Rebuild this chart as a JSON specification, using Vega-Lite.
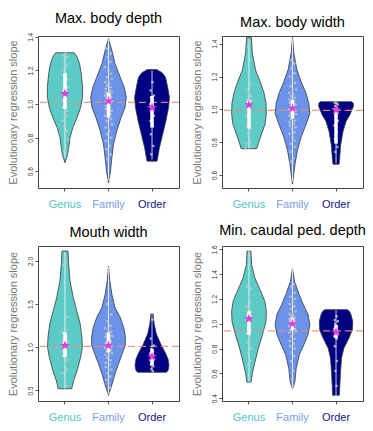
{
"$schema": "https://vega.github.io/schema/vega-lite/v6.json",
"padding": {"left": 6, "top": 10, "right": 5, "bottom": 5},
"background": "white",
"config": {
  "font": "Liberation Sans",
  "view": {"stroke": "#444", "strokeWidth": 1},
  "title": {"fontSize": 14.5, "fontWeight": "normal", "color": "#000", "offset": 6, "anchor": "middle"},
  "axis": {"labelOverlap": false},
  "axisQuantitative": {"labelOverlap": false},
  "axisY": {"domain": false, "grid": false, "tickSize": 3, "tickColor": "#555", "labelAngle": 270, "labelAlign": "center", "labelBaseline": "bottom", "labelFontSize": 6.5, "labelColor": "#333", "labelPadding": 2, "labelOverlap": false, "labelFlush": false, "titleFontSize": 11, "titleColor": "#777", "titleFontWeight": "normal", "titlePadding": 9},
  "axisX": {"domain": false, "grid": false, "tickSize": 3, "tickColor": "#555", "labelAngle": 0, "labelFontSize": 11, "labelPadding": 7}
},
"datasets": {
"ref": [{"p":"depth","v":1.01},{"p":"width","v":0.993},{"p":"mouth","v":1.01},{"p":"caudal","v":0.943}],
"st": [
{"p":"depth","c":"Genus","lo":0.68,"hi":1.30,"q1":0.97,"q3":1.185,"m":1.062},
{"p":"depth","c":"Family","lo":0.55,"hi":1.38,"q1":0.92,"q3":1.067,"m":1.018},
{"p":"depth","c":"Order","lo":0.67,"hi":1.20,"q1":0.86,"q3":1.048,"m":0.978},
{"p":"width","c":"Genus","lo":0.76,"hi":1.43,"q1":0.883,"q3":1.057,"m":1.027},
{"p":"width","c":"Family","lo":0.56,"hi":1.43,"q1":0.945,"q3":1.057,"m":1.006},
{"p":"width","c":"Order","lo":0.67,"hi":1.04,"q1":0.79,"q3":0.996,"m":0.996},
{"p":"mouth","c":"Genus","lo":0.52,"hi":2.1,"q1":0.885,"q3":1.173,"m":1.02},
{"p":"mouth","c":"Family","lo":0.46,"hi":1.93,"q1":0.94,"q3":1.17,"m":1.02},
{"p":"mouth","c":"Order","lo":0.72,"hi":1.38,"q1":0.79,"q3":0.98,"m":0.89},
{"p":"caudal","c":"Genus","lo":0.53,"hi":1.59,"q1":0.91,"q3":1.10,"m":1.04},
{"p":"caudal","c":"Family","lo":0.47,"hi":1.45,"q1":0.95,"q3":1.046,"m":1.0},
{"p":"caudal","c":"Order","lo":0.42,"hi":1.11,"q1":0.884,"q3":0.99,"m":0.933}
],
"vio": [
{"p":"depth","c":"Genus","i":0,"v":0.65,"o":0},
{"p":"depth","c":"Genus","i":1,"v":0.70,"o":-0.06},
{"p":"depth","c":"Genus","i":2,"v":0.74,"o":-0.085},
{"p":"depth","c":"Genus","i":3,"v":0.80,"o":-0.115},
{"p":"depth","c":"Genus","i":4,"v":0.86,"o":-0.18},
{"p":"depth","c":"Genus","i":5,"v":0.92,"o":-0.28},
{"p":"depth","c":"Genus","i":6,"v":0.98,"o":-0.36},
{"p":"depth","c":"Genus","i":7,"v":1.04,"o":-0.405},
{"p":"depth","c":"Genus","i":8,"v":1.10,"o":-0.405},
{"p":"depth","c":"Genus","i":9,"v":1.18,"o":-0.375},
{"p":"depth","c":"Genus","i":10,"v":1.24,"o":-0.335},
{"p":"depth","c":"Genus","i":11,"v":1.28,"o":-0.28},
{"p":"depth","c":"Genus","i":12,"v":1.305,"o":-0.215},
{"p":"depth","c":"Genus","i":13,"v":1.305,"o":0.215},
{"p":"depth","c":"Genus","i":14,"v":1.28,"o":0.28},
{"p":"depth","c":"Genus","i":15,"v":1.24,"o":0.335},
{"p":"depth","c":"Genus","i":16,"v":1.18,"o":0.375},
{"p":"depth","c":"Genus","i":17,"v":1.10,"o":0.405},
{"p":"depth","c":"Genus","i":18,"v":1.04,"o":0.405},
{"p":"depth","c":"Genus","i":19,"v":0.98,"o":0.36},
{"p":"depth","c":"Genus","i":20,"v":0.92,"o":0.28},
{"p":"depth","c":"Genus","i":21,"v":0.86,"o":0.18},
{"p":"depth","c":"Genus","i":22,"v":0.80,"o":0.115},
{"p":"depth","c":"Genus","i":23,"v":0.74,"o":0.085},
{"p":"depth","c":"Genus","i":24,"v":0.70,"o":0.06},

{"p":"depth","c":"Family","i":0,"v":0.53,"o":0},
{"p":"depth","c":"Family","i":1,"v":0.60,"o":-0.046},
{"p":"depth","c":"Family","i":2,"v":0.68,"o":-0.077},
{"p":"depth","c":"Family","i":3,"v":0.76,"o":-0.115},
{"p":"depth","c":"Family","i":4,"v":0.84,"o":-0.19},
{"p":"depth","c":"Family","i":5,"v":0.92,"o":-0.29},
{"p":"depth","c":"Family","i":6,"v":0.98,"o":-0.38},
{"p":"depth","c":"Family","i":7,"v":1.04,"o":-0.41},
{"p":"depth","c":"Family","i":8,"v":1.10,"o":-0.36},
{"p":"depth","c":"Family","i":9,"v":1.16,"o":-0.27},
{"p":"depth","c":"Family","i":10,"v":1.24,"o":-0.15},
{"p":"depth","c":"Family","i":11,"v":1.32,"o":-0.077},
{"p":"depth","c":"Family","i":12,"v":1.39,"o":0},
{"p":"depth","c":"Family","i":13,"v":1.32,"o":0.077},
{"p":"depth","c":"Family","i":14,"v":1.24,"o":0.15},
{"p":"depth","c":"Family","i":15,"v":1.16,"o":0.27},
{"p":"depth","c":"Family","i":16,"v":1.10,"o":0.36},
{"p":"depth","c":"Family","i":17,"v":1.04,"o":0.41},
{"p":"depth","c":"Family","i":18,"v":0.98,"o":0.38},
{"p":"depth","c":"Family","i":19,"v":0.92,"o":0.29},
{"p":"depth","c":"Family","i":20,"v":0.84,"o":0.19},
{"p":"depth","c":"Family","i":21,"v":0.76,"o":0.115},
{"p":"depth","c":"Family","i":22,"v":0.68,"o":0.077},
{"p":"depth","c":"Family","i":23,"v":0.60,"o":0.046},

{"p":"depth","c":"Order","i":0,"v":0.66,"o":-0.115},
{"p":"depth","c":"Order","i":1,"v":0.74,"o":-0.17},
{"p":"depth","c":"Order","i":2,"v":0.82,"o":-0.245},
{"p":"depth","c":"Order","i":3,"v":0.90,"o":-0.32},
{"p":"depth","c":"Order","i":4,"v":0.98,"o":-0.38},
{"p":"depth","c":"Order","i":5,"v":1.04,"o":-0.40},
{"p":"depth","c":"Order","i":6,"v":1.10,"o":-0.36},
{"p":"depth","c":"Order","i":7,"v":1.16,"o":-0.31},
{"p":"depth","c":"Order","i":8,"v":1.185,"o":-0.24},
{"p":"depth","c":"Order","i":9,"v":1.205,"o":-0.11},
{"p":"depth","c":"Order","i":10,"v":1.205,"o":0.11},
{"p":"depth","c":"Order","i":11,"v":1.185,"o":0.24},
{"p":"depth","c":"Order","i":12,"v":1.16,"o":0.31},
{"p":"depth","c":"Order","i":13,"v":1.10,"o":0.36},
{"p":"depth","c":"Order","i":14,"v":1.04,"o":0.40},
{"p":"depth","c":"Order","i":15,"v":0.98,"o":0.38},
{"p":"depth","c":"Order","i":16,"v":0.90,"o":0.32},
{"p":"depth","c":"Order","i":17,"v":0.82,"o":0.245},
{"p":"depth","c":"Order","i":18,"v":0.74,"o":0.17},
{"p":"depth","c":"Order","i":19,"v":0.66,"o":0.115},

{"p":"width","c":"Genus","i":0,"v":0.76,"o":-0.18},
{"p":"width","c":"Genus","i":1,"v":0.79,"o":-0.215},
{"p":"width","c":"Genus","i":2,"v":0.85,"o":-0.29},
{"p":"width","c":"Genus","i":3,"v":0.91,"o":-0.37},
{"p":"width","c":"Genus","i":4,"v":0.975,"o":-0.40},
{"p":"width","c":"Genus","i":5,"v":1.04,"o":-0.39},
{"p":"width","c":"Genus","i":6,"v":1.10,"o":-0.345},
{"p":"width","c":"Genus","i":7,"v":1.16,"o":-0.27},
{"p":"width","c":"Genus","i":8,"v":1.24,"o":-0.15},
{"p":"width","c":"Genus","i":9,"v":1.345,"o":-0.077},
{"p":"width","c":"Genus","i":10,"v":1.437,"o":-0.055},
{"p":"width","c":"Genus","i":11,"v":1.437,"o":0.055},
{"p":"width","c":"Genus","i":12,"v":1.345,"o":0.077},
{"p":"width","c":"Genus","i":13,"v":1.24,"o":0.15},
{"p":"width","c":"Genus","i":14,"v":1.16,"o":0.27},
{"p":"width","c":"Genus","i":15,"v":1.10,"o":0.345},
{"p":"width","c":"Genus","i":16,"v":1.04,"o":0.39},
{"p":"width","c":"Genus","i":17,"v":0.975,"o":0.40},
{"p":"width","c":"Genus","i":18,"v":0.91,"o":0.37},
{"p":"width","c":"Genus","i":19,"v":0.85,"o":0.29},
{"p":"width","c":"Genus","i":20,"v":0.79,"o":0.215},
{"p":"width","c":"Genus","i":21,"v":0.76,"o":0.18},

{"p":"width","c":"Family","i":0,"v":0.545,"o":0},
{"p":"width","c":"Family","i":1,"v":0.668,"o":-0.06},
{"p":"width","c":"Family","i":2,"v":0.75,"o":-0.115},
{"p":"width","c":"Family","i":3,"v":0.832,"o":-0.2},
{"p":"width","c":"Family","i":4,"v":0.914,"o":-0.32},
{"p":"width","c":"Family","i":5,"v":0.975,"o":-0.40},
{"p":"width","c":"Family","i":6,"v":1.037,"o":-0.375},
{"p":"width","c":"Family","i":7,"v":1.098,"o":-0.31},
{"p":"width","c":"Family","i":8,"v":1.16,"o":-0.21},
{"p":"width","c":"Family","i":9,"v":1.242,"o":-0.10},
{"p":"width","c":"Family","i":10,"v":1.345,"o":-0.03},
{"p":"width","c":"Family","i":11,"v":1.437,"o":0},
{"p":"width","c":"Family","i":12,"v":1.345,"o":0.03},
{"p":"width","c":"Family","i":13,"v":1.242,"o":0.10},
{"p":"width","c":"Family","i":14,"v":1.16,"o":0.21},
{"p":"width","c":"Family","i":15,"v":1.098,"o":0.31},
{"p":"width","c":"Family","i":16,"v":1.037,"o":0.375},
{"p":"width","c":"Family","i":17,"v":0.975,"o":0.40},
{"p":"width","c":"Family","i":18,"v":0.914,"o":0.32},
{"p":"width","c":"Family","i":19,"v":0.832,"o":0.2},
{"p":"width","c":"Family","i":20,"v":0.75,"o":0.115},
{"p":"width","c":"Family","i":21,"v":0.668,"o":0.06},

{"p":"width","c":"Order","i":0,"v":0.665,"o":-0.07},
{"p":"width","c":"Order","i":1,"v":0.70,"o":-0.084},
{"p":"width","c":"Order","i":2,"v":0.783,"o":-0.107},
{"p":"width","c":"Order","i":3,"v":0.865,"o":-0.16},
{"p":"width","c":"Order","i":4,"v":0.926,"o":-0.23},
{"p":"width","c":"Order","i":5,"v":0.967,"o":-0.32},
{"p":"width","c":"Order","i":6,"v":1.018,"o":-0.40},
{"p":"width","c":"Order","i":7,"v":1.038,"o":-0.395},
{"p":"width","c":"Order","i":8,"v":1.046,"o":-0.36},
{"p":"width","c":"Order","i":9,"v":1.046,"o":0.36},
{"p":"width","c":"Order","i":10,"v":1.038,"o":0.395},
{"p":"width","c":"Order","i":11,"v":1.018,"o":0.40},
{"p":"width","c":"Order","i":12,"v":0.967,"o":0.32},
{"p":"width","c":"Order","i":13,"v":0.926,"o":0.23},
{"p":"width","c":"Order","i":14,"v":0.865,"o":0.16},
{"p":"width","c":"Order","i":15,"v":0.783,"o":0.107},
{"p":"width","c":"Order","i":16,"v":0.70,"o":0.084},
{"p":"width","c":"Order","i":17,"v":0.665,"o":0.07},

{"p":"mouth","c":"Genus","i":0,"v":0.519,"o":-0.155},
{"p":"mouth","c":"Genus","i":1,"v":0.615,"o":-0.2},
{"p":"mouth","c":"Genus","i":2,"v":0.73,"o":-0.28},
{"p":"mouth","c":"Genus","i":3,"v":0.885,"o":-0.36},
{"p":"mouth","c":"Genus","i":4,"v":1.0,"o":-0.40},
{"p":"mouth","c":"Genus","i":5,"v":1.115,"o":-0.39},
{"p":"mouth","c":"Genus","i":6,"v":1.27,"o":-0.35},
{"p":"mouth","c":"Genus","i":7,"v":1.423,"o":-0.27},
{"p":"mouth","c":"Genus","i":8,"v":1.577,"o":-0.19},
{"p":"mouth","c":"Genus","i":9,"v":1.77,"o":-0.115},
{"p":"mouth","c":"Genus","i":10,"v":1.96,"o":-0.085},
{"p":"mouth","c":"Genus","i":11,"v":2.115,"o":-0.07},
{"p":"mouth","c":"Genus","i":12,"v":2.115,"o":0.07},
{"p":"mouth","c":"Genus","i":13,"v":1.96,"o":0.085},
{"p":"mouth","c":"Genus","i":14,"v":1.77,"o":0.115},
{"p":"mouth","c":"Genus","i":15,"v":1.577,"o":0.19},
{"p":"mouth","c":"Genus","i":16,"v":1.423,"o":0.27},
{"p":"mouth","c":"Genus","i":17,"v":1.27,"o":0.35},
{"p":"mouth","c":"Genus","i":18,"v":1.115,"o":0.39},
{"p":"mouth","c":"Genus","i":19,"v":1.0,"o":0.40},
{"p":"mouth","c":"Genus","i":20,"v":0.885,"o":0.36},
{"p":"mouth","c":"Genus","i":21,"v":0.73,"o":0.28},
{"p":"mouth","c":"Genus","i":22,"v":0.615,"o":0.2},
{"p":"mouth","c":"Genus","i":23,"v":0.519,"o":0.155},

{"p":"mouth","c":"Family","i":0,"v":0.442,"o":0},
{"p":"mouth","c":"Family","i":1,"v":0.577,"o":-0.085},
{"p":"mouth","c":"Family","i":2,"v":0.692,"o":-0.15},
{"p":"mouth","c":"Family","i":3,"v":0.808,"o":-0.23},
{"p":"mouth","c":"Family","i":4,"v":0.923,"o":-0.315},
{"p":"mouth","c":"Family","i":5,"v":1.02,"o":-0.385},
{"p":"mouth","c":"Family","i":6,"v":1.115,"o":-0.39},
{"p":"mouth","c":"Family","i":7,"v":1.23,"o":-0.35},
{"p":"mouth","c":"Family","i":8,"v":1.346,"o":-0.27},
{"p":"mouth","c":"Family","i":9,"v":1.46,"o":-0.15},
{"p":"mouth","c":"Family","i":10,"v":1.615,"o":-0.077},
{"p":"mouth","c":"Family","i":11,"v":1.77,"o":-0.03},
{"p":"mouth","c":"Family","i":12,"v":1.94,"o":0},
{"p":"mouth","c":"Family","i":13,"v":1.77,"o":0.03},
{"p":"mouth","c":"Family","i":14,"v":1.615,"o":0.077},
{"p":"mouth","c":"Family","i":15,"v":1.46,"o":0.15},
{"p":"mouth","c":"Family","i":16,"v":1.346,"o":0.27},
{"p":"mouth","c":"Family","i":17,"v":1.23,"o":0.35},
{"p":"mouth","c":"Family","i":18,"v":1.115,"o":0.39},
{"p":"mouth","c":"Family","i":19,"v":1.02,"o":0.385},
{"p":"mouth","c":"Family","i":20,"v":0.923,"o":0.315},
{"p":"mouth","c":"Family","i":21,"v":0.808,"o":0.23},
{"p":"mouth","c":"Family","i":22,"v":0.692,"o":0.15},
{"p":"mouth","c":"Family","i":23,"v":0.577,"o":0.085},

{"p":"mouth","c":"Order","i":0,"v":0.71,"o":-0.33},
{"p":"mouth","c":"Order","i":1,"v":0.73,"o":-0.37},
{"p":"mouth","c":"Order","i":2,"v":0.79,"o":-0.39},
{"p":"mouth","c":"Order","i":3,"v":0.86,"o":-0.37},
{"p":"mouth","c":"Order","i":4,"v":0.923,"o":-0.32},
{"p":"mouth","c":"Order","i":5,"v":1.038,"o":-0.2},
{"p":"mouth","c":"Order","i":6,"v":1.154,"o":-0.1},
{"p":"mouth","c":"Order","i":7,"v":1.27,"o":-0.05},
{"p":"mouth","c":"Order","i":8,"v":1.385,"o":-0.025},
{"p":"mouth","c":"Order","i":9,"v":1.385,"o":0.025},
{"p":"mouth","c":"Order","i":10,"v":1.27,"o":0.05},
{"p":"mouth","c":"Order","i":11,"v":1.154,"o":0.1},
{"p":"mouth","c":"Order","i":12,"v":1.038,"o":0.2},
{"p":"mouth","c":"Order","i":13,"v":0.923,"o":0.32},
{"p":"mouth","c":"Order","i":14,"v":0.86,"o":0.37},
{"p":"mouth","c":"Order","i":15,"v":0.79,"o":0.39},
{"p":"mouth","c":"Order","i":16,"v":0.73,"o":0.37},
{"p":"mouth","c":"Order","i":17,"v":0.71,"o":0.33},

{"p":"caudal","c":"Genus","i":0,"v":0.53,"o":-0.046},
{"p":"caudal","c":"Genus","i":1,"v":0.614,"o":-0.085},
{"p":"caudal","c":"Genus","i":2,"v":0.695,"o":-0.14},
{"p":"caudal","c":"Genus","i":3,"v":0.803,"o":-0.215},
{"p":"caudal","c":"Genus","i":4,"v":0.911,"o":-0.31},
{"p":"caudal","c":"Genus","i":5,"v":1.019,"o":-0.39},
{"p":"caudal","c":"Genus","i":6,"v":1.10,"o":-0.40},
{"p":"caudal","c":"Genus","i":7,"v":1.181,"o":-0.365},
{"p":"caudal","c":"Genus","i":8,"v":1.262,"o":-0.27},
{"p":"caudal","c":"Genus","i":9,"v":1.37,"o":-0.135},
{"p":"caudal","c":"Genus","i":10,"v":1.478,"o":-0.06},
{"p":"caudal","c":"Genus","i":11,"v":1.586,"o":-0.045},
{"p":"caudal","c":"Genus","i":12,"v":1.586,"o":0.045},
{"p":"caudal","c":"Genus","i":13,"v":1.478,"o":0.06},
{"p":"caudal","c":"Genus","i":14,"v":1.37,"o":0.135},
{"p":"caudal","c":"Genus","i":15,"v":1.262,"o":0.27},
{"p":"caudal","c":"Genus","i":16,"v":1.181,"o":0.365},
{"p":"caudal","c":"Genus","i":17,"v":1.10,"o":0.40},
{"p":"caudal","c":"Genus","i":18,"v":1.019,"o":0.39},
{"p":"caudal","c":"Genus","i":19,"v":0.911,"o":0.31},
{"p":"caudal","c":"Genus","i":20,"v":0.803,"o":0.215},
{"p":"caudal","c":"Genus","i":21,"v":0.695,"o":0.14},
{"p":"caudal","c":"Genus","i":22,"v":0.614,"o":0.085},
{"p":"caudal","c":"Genus","i":23,"v":0.53,"o":0.046},

{"p":"caudal","c":"Family","i":0,"v":0.473,"o":0},
{"p":"caudal","c":"Family","i":1,"v":0.532,"o":-0.054},
{"p":"caudal","c":"Family","i":2,"v":0.64,"o":-0.085},
{"p":"caudal","c":"Family","i":3,"v":0.749,"o":-0.154},
{"p":"caudal","c":"Family","i":4,"v":0.83,"o":-0.26},
{"p":"caudal","c":"Family","i":5,"v":0.911,"o":-0.355},
{"p":"caudal","c":"Family","i":6,"v":0.992,"o":-0.40},
{"p":"caudal","c":"Family","i":7,"v":1.073,"o":-0.36},
{"p":"caudal","c":"Family","i":8,"v":1.154,"o":-0.25},
{"p":"caudal","c":"Family","i":9,"v":1.235,"o":-0.154},
{"p":"caudal","c":"Family","i":10,"v":1.343,"o":-0.046},
{"p":"caudal","c":"Family","i":11,"v":1.45,"o":0},
{"p":"caudal","c":"Family","i":12,"v":1.343,"o":0.046},
{"p":"caudal","c":"Family","i":13,"v":1.235,"o":0.154},
{"p":"caudal","c":"Family","i":14,"v":1.154,"o":0.25},
{"p":"caudal","c":"Family","i":15,"v":1.073,"o":0.36},
{"p":"caudal","c":"Family","i":16,"v":0.992,"o":0.40},
{"p":"caudal","c":"Family","i":17,"v":0.911,"o":0.355},
{"p":"caudal","c":"Family","i":18,"v":0.83,"o":0.26},
{"p":"caudal","c":"Family","i":19,"v":0.749,"o":0.154},
{"p":"caudal","c":"Family","i":20,"v":0.64,"o":0.085},
{"p":"caudal","c":"Family","i":21,"v":0.532,"o":0.054},

{"p":"caudal","c":"Order","i":0,"v":0.424,"o":-0.077},
{"p":"caudal","c":"Order","i":1,"v":0.505,"o":-0.088},
{"p":"caudal","c":"Order","i":2,"v":0.614,"o":-0.104},
{"p":"caudal","c":"Order","i":3,"v":0.722,"o":-0.127},
{"p":"caudal","c":"Order","i":4,"v":0.803,"o":-0.18},
{"p":"caudal","c":"Order","i":5,"v":0.884,"o":-0.296},
{"p":"caudal","c":"Order","i":6,"v":0.951,"o":-0.375},
{"p":"caudal","c":"Order","i":7,"v":1.019,"o":-0.385},
{"p":"caudal","c":"Order","i":8,"v":1.073,"o":-0.345},
{"p":"caudal","c":"Order","i":9,"v":1.10,"o":-0.31},
{"p":"caudal","c":"Order","i":10,"v":1.114,"o":-0.26},
{"p":"caudal","c":"Order","i":11,"v":1.114,"o":0.26},
{"p":"caudal","c":"Order","i":12,"v":1.10,"o":0.31},
{"p":"caudal","c":"Order","i":13,"v":1.073,"o":0.345},
{"p":"caudal","c":"Order","i":14,"v":1.019,"o":0.385},
{"p":"caudal","c":"Order","i":15,"v":0.951,"o":0.375},
{"p":"caudal","c":"Order","i":16,"v":0.884,"o":0.296},
{"p":"caudal","c":"Order","i":17,"v":0.803,"o":0.18},
{"p":"caudal","c":"Order","i":18,"v":0.722,"o":0.127},
{"p":"caudal","c":"Order","i":19,"v":0.614,"o":0.104},
{"p":"caudal","c":"Order","i":20,"v":0.505,"o":0.088},
{"p":"caudal","c":"Order","i":21,"v":0.424,"o":0.077}
],
"pts": [
{"p":"depth","c":"Genus","v":1.30,"o":0.02},{"p":"depth","c":"Genus","v":1.29,"o":-0.04},{"p":"depth","c":"Genus","v":1.28,"o":0.05},{"p":"depth","c":"Genus","v":1.25,"o":-0.01},{"p":"depth","c":"Genus","v":1.23,"o":0.03},{"p":"depth","c":"Genus","v":1.20,"o":-0.06},{"p":"depth","c":"Genus","v":1.17,"o":0.0},{"p":"depth","c":"Genus","v":1.15,"o":0.04},{"p":"depth","c":"Genus","v":1.12,"o":-0.03},{"p":"depth","c":"Genus","v":1.10,"o":0.06},{"p":"depth","c":"Genus","v":1.08,"o":-0.05},{"p":"depth","c":"Genus","v":1.06,"o":0.01},{"p":"depth","c":"Genus","v":1.05,"o":-0.02},{"p":"depth","c":"Genus","v":1.04,"o":0.035},{"p":"depth","c":"Genus","v":1.02,"o":-0.045},{"p":"depth","c":"Genus","v":1.00,"o":0.02},{"p":"depth","c":"Genus","v":0.98,"o":-0.04},{"p":"depth","c":"Genus","v":0.96,"o":0.05},{"p":"depth","c":"Genus","v":0.94,"o":-0.01},{"p":"depth","c":"Genus","v":0.93,"o":0.03},{"p":"depth","c":"Genus","v":0.90,"o":-0.06},{"p":"depth","c":"Genus","v":0.87,"o":0.0},{"p":"depth","c":"Genus","v":0.84,"o":0.04},{"p":"depth","c":"Genus","v":0.79,"o":0.07},{"p":"depth","c":"Genus","v":0.72,"o":-0.02},
{"p":"depth","c":"Family","v":1.38,"o":0.0},{"p":"depth","c":"Family","v":1.33,"o":-0.04},{"p":"depth","c":"Family","v":1.30,"o":0.05},{"p":"depth","c":"Family","v":1.28,"o":-0.02},{"p":"depth","c":"Family","v":1.25,"o":0.045},{"p":"depth","c":"Family","v":1.22,"o":-0.08},{"p":"depth","c":"Family","v":1.20,"o":0.0},{"p":"depth","c":"Family","v":1.18,"o":0.06},{"p":"depth","c":"Family","v":1.16,"o":-0.04},{"p":"depth","c":"Family","v":1.15,"o":0.08},{"p":"depth","c":"Family","v":1.13,"o":-0.07},{"p":"depth","c":"Family","v":1.12,"o":0.015},{"p":"depth","c":"Family","v":1.11,"o":-0.03},{"p":"depth","c":"Family","v":1.10,"o":0.05},{"p":"depth","c":"Family","v":1.09,"o":-0.065},{"p":"depth","c":"Family","v":1.08,"o":0.03},{"p":"depth","c":"Family","v":1.07,"o":-0.06},{"p":"depth","c":"Family","v":1.07,"o":0.07},{"p":"depth","c":"Family","v":1.06,"o":-0.02},{"p":"depth","c":"Family","v":1.05,"o":0.045},{"p":"depth","c":"Family","v":1.05,"o":-0.08},{"p":"depth","c":"Family","v":1.04,"o":0.0},{"p":"depth","c":"Family","v":1.04,"o":0.06},{"p":"depth","c":"Family","v":1.03,"o":-0.04},{"p":"depth","c":"Family","v":1.02,"o":0.08},{"p":"depth","c":"Family","v":1.02,"o":-0.07},{"p":"depth","c":"Family","v":1.01,"o":0.015},{"p":"depth","c":"Family","v":1.00,"o":-0.03},{"p":"depth","c":"Family","v":1.00,"o":0.05},{"p":"depth","c":"Family","v":0.99,"o":-0.065},{"p":"depth","c":"Family","v":0.98,"o":0.03},{"p":"depth","c":"Family","v":0.97,"o":-0.06},{"p":"depth","c":"Family","v":0.96,"o":0.07},{"p":"depth","c":"Family","v":0.95,"o":-0.02},{"p":"depth","c":"Family","v":0.94,"o":0.045},{"p":"depth","c":"Family","v":0.93,"o":-0.08},{"p":"depth","c":"Family","v":0.92,"o":0.0},{"p":"depth","c":"Family","v":0.91,"o":0.06},{"p":"depth","c":"Family","v":0.90,"o":-0.04},{"p":"depth","c":"Family","v":0.88,"o":0.08},{"p":"depth","c":"Family","v":0.86,"o":-0.07},{"p":"depth","c":"Family","v":0.84,"o":0.015},{"p":"depth","c":"Family","v":0.82,"o":-0.03},{"p":"depth","c":"Family","v":0.80,"o":0.05},{"p":"depth","c":"Family","v":0.78,"o":-0.06},{"p":"depth","c":"Family","v":0.75,"o":0.03},{"p":"depth","c":"Family","v":0.73,"o":-0.05},{"p":"depth","c":"Family","v":0.70,"o":0.05},{"p":"depth","c":"Family","v":0.67,"o":-0.02},{"p":"depth","c":"Family","v":0.55,"o":0.0},
{"p":"depth","c":"Order","v":1.13,"o":0.01},{"p":"depth","c":"Order","v":1.08,"o":-0.03},{"p":"depth","c":"Order","v":1.05,"o":0.04},{"p":"depth","c":"Order","v":1.04,"o":-0.02},{"p":"depth","c":"Order","v":1.02,"o":0.02},{"p":"depth","c":"Order","v":1.00,"o":-0.04},{"p":"depth","c":"Order","v":0.99,"o":0.0},{"p":"depth","c":"Order","v":0.97,"o":0.03},{"p":"depth","c":"Order","v":0.95,"o":-0.01},{"p":"depth","c":"Order","v":0.93,"o":0.045},{"p":"depth","c":"Order","v":0.90,"o":-0.035},{"p":"depth","c":"Order","v":0.87,"o":0.015},{"p":"depth","c":"Order","v":0.82,"o":-0.025},{"p":"depth","c":"Order","v":0.75,"o":0.03},{"p":"depth","c":"Order","v":0.70,"o":-0.015},

{"p":"width","c":"Genus","v":1.42,"o":0.0},{"p":"width","c":"Genus","v":1.38,"o":-0.02},{"p":"width","c":"Genus","v":1.30,"o":0.03},{"p":"width","c":"Genus","v":1.22,"o":-0.01},{"p":"width","c":"Genus","v":1.15,"o":0.03},{"p":"width","c":"Genus","v":1.12,"o":-0.06},{"p":"width","c":"Genus","v":1.10,"o":0.0},{"p":"width","c":"Genus","v":1.08,"o":0.04},{"p":"width","c":"Genus","v":1.06,"o":-0.03},{"p":"width","c":"Genus","v":1.05,"o":0.06},{"p":"width","c":"Genus","v":1.04,"o":-0.05},{"p":"width","c":"Genus","v":1.02,"o":0.01},{"p":"width","c":"Genus","v":1.00,"o":-0.02},{"p":"width","c":"Genus","v":0.98,"o":0.035},{"p":"width","c":"Genus","v":0.96,"o":-0.045},{"p":"width","c":"Genus","v":0.94,"o":0.02},{"p":"width","c":"Genus","v":0.90,"o":-0.04},{"p":"width","c":"Genus","v":0.88,"o":0.05},{"p":"width","c":"Genus","v":0.85,"o":-0.01},{"p":"width","c":"Genus","v":0.80,"o":0.03},{"p":"width","c":"Genus","v":0.79,"o":-0.06},{"p":"width","c":"Genus","v":0.77,"o":0.06},{"p":"width","c":"Genus","v":0.76,"o":-0.08},
{"p":"width","c":"Family","v":1.41,"o":0.0},{"p":"width","c":"Family","v":1.30,"o":-0.03},{"p":"width","c":"Family","v":1.28,"o":0.04},{"p":"width","c":"Family","v":1.25,"o":-0.02},{"p":"width","c":"Family","v":1.22,"o":0.045},{"p":"width","c":"Family","v":1.20,"o":-0.06},{"p":"width","c":"Family","v":1.18,"o":0.0},{"p":"width","c":"Family","v":1.16,"o":0.06},{"p":"width","c":"Family","v":1.14,"o":-0.04},{"p":"width","c":"Family","v":1.12,"o":0.08},{"p":"width","c":"Family","v":1.10,"o":-0.07},{"p":"width","c":"Family","v":1.09,"o":0.015},{"p":"width","c":"Family","v":1.08,"o":-0.03},{"p":"width","c":"Family","v":1.07,"o":0.05},{"p":"width","c":"Family","v":1.06,"o":-0.065},{"p":"width","c":"Family","v":1.05,"o":0.03},{"p":"width","c":"Family","v":1.04,"o":-0.06},{"p":"width","c":"Family","v":1.03,"o":0.07},{"p":"width","c":"Family","v":1.02,"o":-0.02},{"p":"width","c":"Family","v":1.01,"o":0.045},{"p":"width","c":"Family","v":1.00,"o":-0.08},{"p":"width","c":"Family","v":1.00,"o":0.0},{"p":"width","c":"Family","v":0.99,"o":0.06},{"p":"width","c":"Family","v":0.98,"o":-0.04},{"p":"width","c":"Family","v":0.97,"o":0.08},{"p":"width","c":"Family","v":0.96,"o":-0.07},{"p":"width","c":"Family","v":0.95,"o":0.015},{"p":"width","c":"Family","v":0.94,"o":-0.03},{"p":"width","c":"Family","v":0.93,"o":0.05},{"p":"width","c":"Family","v":0.92,"o":-0.065},{"p":"width","c":"Family","v":0.91,"o":0.03},{"p":"width","c":"Family","v":0.90,"o":-0.06},{"p":"width","c":"Family","v":0.89,"o":0.07},{"p":"width","c":"Family","v":0.88,"o":-0.02},{"p":"width","c":"Family","v":0.86,"o":0.045},{"p":"width","c":"Family","v":0.85,"o":-0.07},{"p":"width","c":"Family","v":0.83,"o":0.0},{"p":"width","c":"Family","v":0.81,"o":0.05},{"p":"width","c":"Family","v":0.79,"o":-0.04},{"p":"width","c":"Family","v":0.77,"o":0.06},{"p":"width","c":"Family","v":0.74,"o":-0.05},{"p":"width","c":"Family","v":0.70,"o":0.015},{"p":"width","c":"Family","v":0.68,"o":-0.03},
{"p":"width","c":"Order","v":1.04,"o":0.01},{"p":"width","c":"Order","v":1.04,"o":-0.03},{"p":"width","c":"Order","v":1.03,"o":0.04},{"p":"width","c":"Order","v":1.02,"o":-0.02},{"p":"width","c":"Order","v":1.01,"o":0.02},{"p":"width","c":"Order","v":1.00,"o":-0.04},{"p":"width","c":"Order","v":0.99,"o":0.0},{"p":"width","c":"Order","v":0.98,"o":0.03},{"p":"width","c":"Order","v":0.96,"o":-0.01},{"p":"width","c":"Order","v":0.93,"o":0.04},{"p":"width","c":"Order","v":0.90,"o":-0.035},{"p":"width","c":"Order","v":0.86,"o":0.015},{"p":"width","c":"Order","v":0.82,"o":-0.025},{"p":"width","c":"Order","v":0.77,"o":0.03},{"p":"width","c":"Order","v":0.74,"o":-0.015},

{"p":"mouth","c":"Genus","v":2.0,"o":0.02},{"p":"mouth","c":"Genus","v":1.95,"o":-0.03},{"p":"mouth","c":"Genus","v":1.35,"o":0.05},{"p":"mouth","c":"Genus","v":1.25,"o":-0.01},{"p":"mouth","c":"Genus","v":1.20,"o":0.03},{"p":"mouth","c":"Genus","v":1.17,"o":-0.06},{"p":"mouth","c":"Genus","v":1.15,"o":0.0},{"p":"mouth","c":"Genus","v":1.12,"o":0.04},{"p":"mouth","c":"Genus","v":1.10,"o":-0.03},{"p":"mouth","c":"Genus","v":1.07,"o":0.06},{"p":"mouth","c":"Genus","v":1.05,"o":-0.05},{"p":"mouth","c":"Genus","v":1.02,"o":0.01},{"p":"mouth","c":"Genus","v":1.00,"o":-0.02},{"p":"mouth","c":"Genus","v":0.98,"o":0.035},{"p":"mouth","c":"Genus","v":0.95,"o":-0.045},{"p":"mouth","c":"Genus","v":0.93,"o":0.02},{"p":"mouth","c":"Genus","v":0.90,"o":-0.04},{"p":"mouth","c":"Genus","v":0.85,"o":0.05},{"p":"mouth","c":"Genus","v":0.80,"o":-0.01},{"p":"mouth","c":"Genus","v":0.75,"o":0.03},{"p":"mouth","c":"Genus","v":0.70,"o":-0.06},{"p":"mouth","c":"Genus","v":0.60,"o":0.0},{"p":"mouth","c":"Genus","v":0.55,"o":0.04},
{"p":"mouth","c":"Family","v":1.90,"o":0.0},{"p":"mouth","c":"Family","v":1.50,"o":-0.03},{"p":"mouth","c":"Family","v":1.38,"o":0.07},{"p":"mouth","c":"Family","v":1.30,"o":-0.02},{"p":"mouth","c":"Family","v":1.25,"o":0.045},{"p":"mouth","c":"Family","v":1.22,"o":-0.08},{"p":"mouth","c":"Family","v":1.20,"o":0.0},{"p":"mouth","c":"Family","v":1.18,"o":0.06},{"p":"mouth","c":"Family","v":1.15,"o":-0.04},{"p":"mouth","c":"Family","v":1.13,"o":0.08},{"p":"mouth","c":"Family","v":1.12,"o":-0.07},{"p":"mouth","c":"Family","v":1.10,"o":0.015},{"p":"mouth","c":"Family","v":1.08,"o":-0.03},{"p":"mouth","c":"Family","v":1.07,"o":0.05},{"p":"mouth","c":"Family","v":1.05,"o":-0.065},{"p":"mouth","c":"Family","v":1.04,"o":0.03},{"p":"mouth","c":"Family","v":1.03,"o":-0.06},{"p":"mouth","c":"Family","v":1.02,"o":0.07},{"p":"mouth","c":"Family","v":1.01,"o":-0.02},{"p":"mouth","c":"Family","v":1.00,"o":0.045},{"p":"mouth","c":"Family","v":0.99,"o":-0.08},{"p":"mouth","c":"Family","v":0.98,"o":0.0},{"p":"mouth","c":"Family","v":0.97,"o":0.06},{"p":"mouth","c":"Family","v":0.95,"o":-0.04},{"p":"mouth","c":"Family","v":0.93,"o":0.08},{"p":"mouth","c":"Family","v":0.91,"o":-0.07},{"p":"mouth","c":"Family","v":0.90,"o":0.015},{"p":"mouth","c":"Family","v":0.88,"o":-0.03},{"p":"mouth","c":"Family","v":0.85,"o":0.05},{"p":"mouth","c":"Family","v":0.82,"o":-0.065},{"p":"mouth","c":"Family","v":0.80,"o":0.03},{"p":"mouth","c":"Family","v":0.77,"o":-0.06},{"p":"mouth","c":"Family","v":0.74,"o":0.07},{"p":"mouth","c":"Family","v":0.70,"o":-0.02},{"p":"mouth","c":"Family","v":0.66,"o":0.04},{"p":"mouth","c":"Family","v":0.62,"o":-0.05},{"p":"mouth","c":"Family","v":0.58,"o":0.0},{"p":"mouth","c":"Family","v":0.53,"o":0.03},{"p":"mouth","c":"Family","v":0.47,"o":0.0},
{"p":"mouth","c":"Order","v":1.32,"o":0.01},{"p":"mouth","c":"Order","v":1.10,"o":-0.03},{"p":"mouth","c":"Order","v":1.02,"o":0.04},{"p":"mouth","c":"Order","v":0.98,"o":-0.02},{"p":"mouth","c":"Order","v":0.95,"o":0.02},{"p":"mouth","c":"Order","v":0.93,"o":-0.04},{"p":"mouth","c":"Order","v":0.92,"o":0.0},{"p":"mouth","c":"Order","v":0.90,"o":0.03},{"p":"mouth","c":"Order","v":0.88,"o":-0.01},{"p":"mouth","c":"Order","v":0.86,"o":0.045},{"p":"mouth","c":"Order","v":0.85,"o":-0.035},{"p":"mouth","c":"Order","v":0.83,"o":0.015},{"p":"mouth","c":"Order","v":0.80,"o":-0.025},{"p":"mouth","c":"Order","v":0.78,"o":0.03},{"p":"mouth","c":"Order","v":0.75,"o":-0.015},{"p":"mouth","c":"Order","v":0.72,"o":0.02},

{"p":"caudal","c":"Genus","v":1.55,"o":0.0},{"p":"caudal","c":"Genus","v":1.30,"o":-0.04},{"p":"caudal","c":"Genus","v":1.28,"o":0.05},{"p":"caudal","c":"Genus","v":1.22,"o":-0.01},{"p":"caudal","c":"Genus","v":1.18,"o":0.03},{"p":"caudal","c":"Genus","v":1.14,"o":-0.06},{"p":"caudal","c":"Genus","v":1.12,"o":0.0},{"p":"caudal","c":"Genus","v":1.10,"o":0.04},{"p":"caudal","c":"Genus","v":1.08,"o":-0.03},{"p":"caudal","c":"Genus","v":1.06,"o":0.06},{"p":"caudal","c":"Genus","v":1.03,"o":-0.05},{"p":"caudal","c":"Genus","v":1.00,"o":0.01},{"p":"caudal","c":"Genus","v":0.97,"o":-0.02},{"p":"caudal","c":"Genus","v":0.95,"o":0.035},{"p":"caudal","c":"Genus","v":0.92,"o":-0.045},{"p":"caudal","c":"Genus","v":0.88,"o":0.02},{"p":"caudal","c":"Genus","v":0.85,"o":-0.04},{"p":"caudal","c":"Genus","v":0.80,"o":0.05},{"p":"caudal","c":"Genus","v":0.77,"o":-0.01},{"p":"caudal","c":"Genus","v":0.70,"o":0.03},{"p":"caudal","c":"Genus","v":0.66,"o":-0.02},
{"p":"caudal","c":"Family","v":1.42,"o":0.0},{"p":"caudal","c":"Family","v":1.32,"o":0.03},{"p":"caudal","c":"Family","v":1.30,"o":-0.02},{"p":"caudal","c":"Family","v":1.25,"o":0.05},{"p":"caudal","c":"Family","v":1.22,"o":-0.045},{"p":"caudal","c":"Family","v":1.20,"o":0.06},{"p":"caudal","c":"Family","v":1.18,"o":0.0},{"p":"caudal","c":"Family","v":1.16,"o":-0.06},{"p":"caudal","c":"Family","v":1.14,"o":0.04},{"p":"caudal","c":"Family","v":1.12,"o":-0.03},{"p":"caudal","c":"Family","v":1.10,"o":0.07},{"p":"caudal","c":"Family","v":1.08,"o":-0.07},{"p":"caudal","c":"Family","v":1.07,"o":0.015},{"p":"caudal","c":"Family","v":1.06,"o":-0.03},{"p":"caudal","c":"Family","v":1.05,"o":0.05},{"p":"caudal","c":"Family","v":1.04,"o":-0.065},{"p":"caudal","c":"Family","v":1.03,"o":0.03},{"p":"caudal","c":"Family","v":1.02,"o":-0.06},{"p":"caudal","c":"Family","v":1.01,"o":0.07},{"p":"caudal","c":"Family","v":1.00,"o":-0.02},{"p":"caudal","c":"Family","v":0.99,"o":0.045},{"p":"caudal","c":"Family","v":0.98,"o":-0.08},{"p":"caudal","c":"Family","v":0.97,"o":0.0},{"p":"caudal","c":"Family","v":0.96,"o":0.06},{"p":"caudal","c":"Family","v":0.95,"o":-0.04},{"p":"caudal","c":"Family","v":0.94,"o":0.08},{"p":"caudal","c":"Family","v":0.93,"o":-0.07},{"p":"caudal","c":"Family","v":0.92,"o":0.015},{"p":"caudal","c":"Family","v":0.90,"o":-0.03},{"p":"caudal","c":"Family","v":0.88,"o":0.05},{"p":"caudal","c":"Family","v":0.86,"o":-0.065},{"p":"caudal","c":"Family","v":0.84,"o":0.03},{"p":"caudal","c":"Family","v":0.82,"o":-0.05},{"p":"caudal","c":"Family","v":0.80,"o":0.05},{"p":"caudal","c":"Family","v":0.77,"o":-0.02},{"p":"caudal","c":"Family","v":0.74,"o":0.04},{"p":"caudal","c":"Family","v":0.70,"o":-0.03},{"p":"caudal","c":"Family","v":0.62,"o":0.02},{"p":"caudal","c":"Family","v":0.55,"o":-0.01},{"p":"caudal","c":"Family","v":0.50,"o":0.0},
{"p":"caudal","c":"Order","v":1.06,"o":0.01},{"p":"caudal","c":"Order","v":1.03,"o":-0.03},{"p":"caudal","c":"Order","v":1.02,"o":0.04},{"p":"caudal","c":"Order","v":1.00,"o":-0.02},{"p":"caudal","c":"Order","v":0.98,"o":0.02},{"p":"caudal","c":"Order","v":0.96,"o":-0.04},{"p":"caudal","c":"Order","v":0.95,"o":0.0},{"p":"caudal","c":"Order","v":0.94,"o":0.03},{"p":"caudal","c":"Order","v":0.93,"o":-0.01},{"p":"caudal","c":"Order","v":0.92,"o":0.045},{"p":"caudal","c":"Order","v":0.90,"o":-0.035},{"p":"caudal","c":"Order","v":0.88,"o":0.015},{"p":"caudal","c":"Order","v":0.82,"o":-0.025},{"p":"caudal","c":"Order","v":0.70,"o":0.02},{"p":"caudal","c":"Order","v":0.62,"o":-0.015},{"p":"caudal","c":"Order","v":0.50,"o":0.01}
]
},
"spacing": 12,
"vconcat": [
{"hconcat": [
{"title": "Max. body depth", "width": 141, "height": 152,
 "layer": [
  {"data": {"name": "vio"}, "transform": [{"filter": "datum.p == 'depth'"}],
   "mark": {"type": "line", "interpolate": "linear-closed", "stroke": "#3a3a3a", "strokeWidth": 0.8},
   "encoding": {
    "x": {"field": "c", "type": "nominal", "title": null, "scale": {"type": "band", "domain": ["Genus","Family","Order"], "paddingInner": 0, "paddingOuter": 0.12},
          "axis": {"labelColor": {"condition": [{"test": "datum.value === 'Genus'", "value": "#4FC8C2"}, {"test": "datum.value === 'Family'", "value": "#7B9BEA"}], "value": "#14148A"}}},
    "xOffset": {"field": "o", "type": "quantitative", "scale": {"domain": [-0.5, 0.5]}},
    "y": {"field": "v", "type": "quantitative", "title": "Evolutionary regression slope", "scale": {"domain": [0.5, 1.405], "nice": false, "zero": false}, "axis": {"values": [0.6, 0.8, 1.0, 1.2, 1.4], "format": ".1f", "labelOverlap": false}},
    "order": {"field": "i", "type": "quantitative"},
    "fill": {"field": "c", "type": "nominal", "legend": null, "scale": {"domain": ["Genus","Family","Order"], "range": ["#5CCBC6", "#6B93EA", "#000082"]}}
   }},
  {"data": {"name": "ref"}, "transform": [{"filter": "datum.p == 'depth'"}],
   "mark": {"type": "rule", "color": "#EE8C78", "strokeDash": [7, 4], "strokeWidth": 1.3, "opacity": 0.9},
   "encoding": {"y": {"field": "v", "type": "quantitative", "title": "Evolutionary regression slope", "axis": {"values": [0.6, 0.8, 1.0, 1.2, 1.4], "format": ".1f", "labelOverlap": false}}}},
  {"data": {"name": "st"}, "transform": [{"filter": "datum.p == 'depth'"}],
   "mark": {"type": "rule", "color": "white", "strokeWidth": 1, "opacity": 0.8},
   "encoding": {"x": {"field": "c", "type": "nominal", "title": null}, "y": {"field": "lo", "type": "quantitative", "title": "Evolutionary regression slope", "axis": {"values": [0.6, 0.8, 1.0, 1.2, 1.4], "format": ".1f", "labelOverlap": false}}, "y2": {"field": "hi"}}},
  {"data": {"name": "pts"}, "transform": [{"filter": "datum.p == 'depth'"}],
   "mark": {"type": "circle", "color": "#C4C4C4", "opacity": 0.85, "size": 7},
   "encoding": {"x": {"field": "c", "type": "nominal", "title": null}, "xOffset": {"field": "o", "type": "quantitative"}, "y": {"field": "v", "type": "quantitative", "title": "Evolutionary regression slope", "axis": {"values": [0.6, 0.8, 1.0, 1.2, 1.4], "format": ".1f", "labelOverlap": false}}}},
  {"data": {"name": "st"}, "transform": [{"filter": "datum.p == 'depth'"}],
   "mark": {"type": "rule", "color": "white", "strokeWidth": 3.5},
   "encoding": {"x": {"field": "c", "type": "nominal", "title": null}, "y": {"field": "q1", "type": "quantitative", "title": "Evolutionary regression slope", "axis": {"values": [0.6, 0.8, 1.0, 1.2, 1.4], "format": ".1f", "labelOverlap": false}}, "y2": {"field": "q3"}}},
  {"data": {"name": "st"}, "transform": [{"filter": "datum.p == 'depth'"}],
   "mark": {"type": "point", "shape": "M0,-1L0.2245,-0.309L0.951,-0.309L0.363,0.118L0.588,0.809L0,0.382L-0.588,0.809L-0.363,0.118L-0.951,-0.309L-0.2245,-0.309Z", "filled": true, "color": "#E23DDC", "size": 110, "opacity": 1},
   "encoding": {"x": {"field": "c", "type": "nominal", "title": null}, "y": {"field": "m", "type": "quantitative", "title": "Evolutionary regression slope", "axis": {"values": [0.6, 0.8, 1.0, 1.2, 1.4], "format": ".1f", "labelOverlap": false}}}}
 ]},
{"title": "Max. body width", "width": 141, "height": 152,
 "layer": [
  {"data": {"name": "vio"}, "transform": [{"filter": "datum.p == 'width'"}],
   "mark": {"type": "line", "interpolate": "linear-closed", "stroke": "#3a3a3a", "strokeWidth": 0.8},
   "encoding": {
    "x": {"field": "c", "type": "nominal", "title": null, "scale": {"type": "band", "domain": ["Genus","Family","Order"], "paddingInner": 0, "paddingOuter": 0.12},
          "axis": {"labelColor": {"condition": [{"test": "datum.value === 'Genus'", "value": "#4FC8C2"}, {"test": "datum.value === 'Family'", "value": "#7B9BEA"}], "value": "#14148A"}}},
    "xOffset": {"field": "o", "type": "quantitative", "scale": {"domain": [-0.5, 0.5]}},
    "y": {"field": "v", "type": "quantitative", "title": "Evolutionary regression slope", "scale": {"domain": [0.52, 1.447], "nice": false, "zero": false}, "axis": {"values": [0.6, 0.8, 1.0, 1.2, 1.4], "format": ".1f", "labelOverlap": false}},
    "order": {"field": "i", "type": "quantitative"},
    "fill": {"field": "c", "type": "nominal", "legend": null, "scale": {"domain": ["Genus","Family","Order"], "range": ["#5CCBC6", "#6B93EA", "#000082"]}}
   }},
  {"data": {"name": "ref"}, "transform": [{"filter": "datum.p == 'width'"}],
   "mark": {"type": "rule", "color": "#EE8C78", "strokeDash": [7, 4], "strokeWidth": 1.3, "opacity": 0.9},
   "encoding": {"y": {"field": "v", "type": "quantitative", "title": "Evolutionary regression slope", "axis": {"values": [0.6, 0.8, 1.0, 1.2, 1.4], "format": ".1f", "labelOverlap": false}}}},
  {"data": {"name": "st"}, "transform": [{"filter": "datum.p == 'width'"}],
   "mark": {"type": "rule", "color": "white", "strokeWidth": 1, "opacity": 0.8},
   "encoding": {"x": {"field": "c", "type": "nominal", "title": null}, "y": {"field": "lo", "type": "quantitative", "title": "Evolutionary regression slope", "axis": {"values": [0.6, 0.8, 1.0, 1.2, 1.4], "format": ".1f", "labelOverlap": false}}, "y2": {"field": "hi"}}},
  {"data": {"name": "pts"}, "transform": [{"filter": "datum.p == 'width'"}],
   "mark": {"type": "circle", "color": "#C4C4C4", "opacity": 0.85, "size": 7},
   "encoding": {"x": {"field": "c", "type": "nominal", "title": null}, "xOffset": {"field": "o", "type": "quantitative"}, "y": {"field": "v", "type": "quantitative", "title": "Evolutionary regression slope", "axis": {"values": [0.6, 0.8, 1.0, 1.2, 1.4], "format": ".1f", "labelOverlap": false}}}},
  {"data": {"name": "st"}, "transform": [{"filter": "datum.p == 'width'"}],
   "mark": {"type": "rule", "color": "white", "strokeWidth": 3.5},
   "encoding": {"x": {"field": "c", "type": "nominal", "title": null}, "y": {"field": "q1", "type": "quantitative", "title": "Evolutionary regression slope", "axis": {"values": [0.6, 0.8, 1.0, 1.2, 1.4], "format": ".1f", "labelOverlap": false}}, "y2": {"field": "q3"}}},
  {"data": {"name": "st"}, "transform": [{"filter": "datum.p == 'width'"}],
   "mark": {"type": "point", "shape": "M0,-1L0.2245,-0.309L0.951,-0.309L0.363,0.118L0.588,0.809L0,0.382L-0.588,0.809L-0.363,0.118L-0.951,-0.309L-0.2245,-0.309Z", "filled": true, "color": "#E23DDC", "size": 110, "opacity": 1},
   "encoding": {"x": {"field": "c", "type": "nominal", "title": null}, "y": {"field": "m", "type": "quantitative", "title": "Evolutionary regression slope", "axis": {"values": [0.6, 0.8, 1.0, 1.2, 1.4], "format": ".1f", "labelOverlap": false}}}}
 ]}
], "spacing": 9},
{"hconcat": [
{"title": "Mouth width", "width": 141, "height": 155,
 "layer": [
  {"data": {"name": "vio"}, "transform": [{"filter": "datum.p == 'mouth'"}],
   "mark": {"type": "line", "interpolate": "linear-closed", "stroke": "#3a3a3a", "strokeWidth": 0.8},
   "encoding": {
    "x": {"field": "c", "type": "nominal", "title": null, "scale": {"type": "band", "domain": ["Genus","Family","Order"], "paddingInner": 0, "paddingOuter": 0.12},
          "axis": {"labelColor": {"condition": [{"test": "datum.value === 'Genus'", "value": "#4FC8C2"}, {"test": "datum.value === 'Family'", "value": "#7B9BEA"}], "value": "#14148A"}}},
    "xOffset": {"field": "o", "type": "quantitative", "scale": {"domain": [-0.5, 0.5]}},
    "y": {"field": "v", "type": "quantitative", "title": "Evolutionary regression slope", "scale": {"domain": [0.377, 2.173], "nice": false, "zero": false}, "axis": {"values": [0.5, 1.0, 1.5, 2.0], "format": ".1f", "labelOverlap": false}},
    "order": {"field": "i", "type": "quantitative"},
    "fill": {"field": "c", "type": "nominal", "legend": null, "scale": {"domain": ["Genus","Family","Order"], "range": ["#5CCBC6", "#6B93EA", "#000082"]}}
   }},
  {"data": {"name": "ref"}, "transform": [{"filter": "datum.p == 'mouth'"}],
   "mark": {"type": "rule", "color": "#EE8C78", "strokeDash": [7, 4], "strokeWidth": 1.3, "opacity": 0.9},
   "encoding": {"y": {"field": "v", "type": "quantitative", "title": "Evolutionary regression slope", "axis": {"values": [0.5, 1.0, 1.5, 2.0], "format": ".1f", "labelOverlap": false}}}},
  {"data": {"name": "st"}, "transform": [{"filter": "datum.p == 'mouth'"}],
   "mark": {"type": "rule", "color": "white", "strokeWidth": 1, "opacity": 0.8},
   "encoding": {"x": {"field": "c", "type": "nominal", "title": null}, "y": {"field": "lo", "type": "quantitative", "title": "Evolutionary regression slope", "axis": {"values": [0.5, 1.0, 1.5, 2.0], "format": ".1f", "labelOverlap": false}}, "y2": {"field": "hi"}}},
  {"data": {"name": "pts"}, "transform": [{"filter": "datum.p == 'mouth'"}],
   "mark": {"type": "circle", "color": "#C4C4C4", "opacity": 0.85, "size": 7},
   "encoding": {"x": {"field": "c", "type": "nominal", "title": null}, "xOffset": {"field": "o", "type": "quantitative"}, "y": {"field": "v", "type": "quantitative", "title": "Evolutionary regression slope", "axis": {"values": [0.5, 1.0, 1.5, 2.0], "format": ".1f", "labelOverlap": false}}}},
  {"data": {"name": "st"}, "transform": [{"filter": "datum.p == 'mouth'"}],
   "mark": {"type": "rule", "color": "white", "strokeWidth": 3.5},
   "encoding": {"x": {"field": "c", "type": "nominal", "title": null}, "y": {"field": "q1", "type": "quantitative", "title": "Evolutionary regression slope", "axis": {"values": [0.5, 1.0, 1.5, 2.0], "format": ".1f", "labelOverlap": false}}, "y2": {"field": "q3"}}},
  {"data": {"name": "st"}, "transform": [{"filter": "datum.p == 'mouth'"}],
   "mark": {"type": "point", "shape": "M0,-1L0.2245,-0.309L0.951,-0.309L0.363,0.118L0.588,0.809L0,0.382L-0.588,0.809L-0.363,0.118L-0.951,-0.309L-0.2245,-0.309Z", "filled": true, "color": "#E23DDC", "size": 110, "opacity": 1},
   "encoding": {"x": {"field": "c", "type": "nominal", "title": null}, "y": {"field": "m", "type": "quantitative", "title": "Evolutionary regression slope", "axis": {"values": [0.5, 1.0, 1.5, 2.0], "format": ".1f", "labelOverlap": false}}}}
 ]},
{"title": "Min. caudal ped. depth", "width": 141, "height": 155,
 "layer": [
  {"data": {"name": "vio"}, "transform": [{"filter": "datum.p == 'caudal'"}],
   "mark": {"type": "line", "interpolate": "linear-closed", "stroke": "#3a3a3a", "strokeWidth": 0.8},
   "encoding": {
    "x": {"field": "c", "type": "nominal", "title": null, "scale": {"type": "band", "domain": ["Genus","Family","Order"], "paddingInner": 0, "paddingOuter": 0.12},
          "axis": {"labelColor": {"condition": [{"test": "datum.value === 'Genus'", "value": "#4FC8C2"}, {"test": "datum.value === 'Family'", "value": "#7B9BEA"}], "value": "#14148A"}}},
    "xOffset": {"field": "o", "type": "quantitative", "scale": {"domain": [-0.5, 0.5]}},
    "y": {"field": "v", "type": "quantitative", "title": "Evolutionary regression slope", "scale": {"domain": [0.378, 1.627], "nice": false, "zero": false}, "axis": {"values": [0.4, 0.6, 0.8, 1.0, 1.2, 1.4, 1.6], "format": ".1f", "labelOverlap": false}},
    "order": {"field": "i", "type": "quantitative"},
    "fill": {"field": "c", "type": "nominal", "legend": null, "scale": {"domain": ["Genus","Family","Order"], "range": ["#5CCBC6", "#6B93EA", "#000082"]}}
   }},
  {"data": {"name": "ref"}, "transform": [{"filter": "datum.p == 'caudal'"}],
   "mark": {"type": "rule", "color": "#EE8C78", "strokeDash": [7, 4], "strokeWidth": 1.3, "opacity": 0.9},
   "encoding": {"y": {"field": "v", "type": "quantitative", "title": "Evolutionary regression slope", "axis": {"values": [0.4, 0.6, 0.8, 1.0, 1.2, 1.4, 1.6], "format": ".1f", "labelOverlap": false}}}},
  {"data": {"name": "st"}, "transform": [{"filter": "datum.p == 'caudal'"}],
   "mark": {"type": "rule", "color": "white", "strokeWidth": 1, "opacity": 0.8},
   "encoding": {"x": {"field": "c", "type": "nominal", "title": null}, "y": {"field": "lo", "type": "quantitative", "title": "Evolutionary regression slope", "axis": {"values": [0.4, 0.6, 0.8, 1.0, 1.2, 1.4, 1.6], "format": ".1f", "labelOverlap": false}}, "y2": {"field": "hi"}}},
  {"data": {"name": "pts"}, "transform": [{"filter": "datum.p == 'caudal'"}],
   "mark": {"type": "circle", "color": "#C4C4C4", "opacity": 0.85, "size": 7},
   "encoding": {"x": {"field": "c", "type": "nominal", "title": null}, "xOffset": {"field": "o", "type": "quantitative"}, "y": {"field": "v", "type": "quantitative", "title": "Evolutionary regression slope", "axis": {"values": [0.4, 0.6, 0.8, 1.0, 1.2, 1.4, 1.6], "format": ".1f", "labelOverlap": false}}}},
  {"data": {"name": "st"}, "transform": [{"filter": "datum.p == 'caudal'"}],
   "mark": {"type": "rule", "color": "white", "strokeWidth": 3.5},
   "encoding": {"x": {"field": "c", "type": "nominal", "title": null}, "y": {"field": "q1", "type": "quantitative", "title": "Evolutionary regression slope", "axis": {"values": [0.4, 0.6, 0.8, 1.0, 1.2, 1.4, 1.6], "format": ".1f", "labelOverlap": false}}, "y2": {"field": "q3"}}},
  {"data": {"name": "st"}, "transform": [{"filter": "datum.p == 'caudal'"}],
   "mark": {"type": "point", "shape": "M0,-1L0.2245,-0.309L0.951,-0.309L0.363,0.118L0.588,0.809L0,0.382L-0.588,0.809L-0.363,0.118L-0.951,-0.309L-0.2245,-0.309Z", "filled": true, "color": "#E23DDC", "size": 110, "opacity": 1},
   "encoding": {"x": {"field": "c", "type": "nominal", "title": null}, "y": {"field": "m", "type": "quantitative", "title": "Evolutionary regression slope", "axis": {"values": [0.4, 0.6, 0.8, 1.0, 1.2, 1.4, 1.6], "format": ".1f", "labelOverlap": false}}}}
 ]}
], "spacing": 9}
]
}
